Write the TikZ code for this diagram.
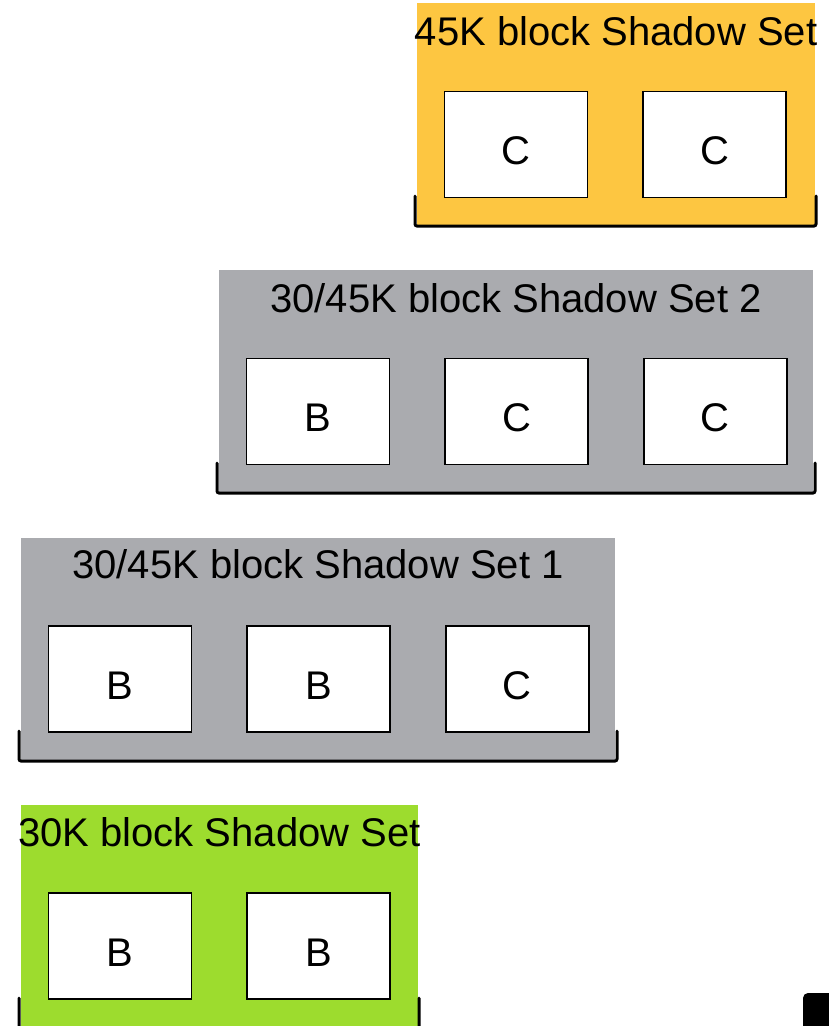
\documentclass[tikz,border=0pt]{standalone}
\usepackage{fontspec}
\setmainfont{Liberation Sans}
\usetikzlibrary{positioning}

\definecolor{setorange}{RGB}{253,198,65}
\definecolor{setgray}{RGB}{170,171,175}
\definecolor{setgreen}{RGB}{157,220,46}

\begin{document}
\begin{tikzpicture}[x=1pt, y=-1pt,
    settitle/.style={anchor=base, inner sep=0pt, font=\fontsize{40}{48}\selectfont},
    member/.style={draw=black, fill=white, line width=1.6pt, minimum width=143pt, minimum height=106pt,
      inner sep=0pt, text height=40pt, text depth=0pt, font=\fontsize{40}{48}\selectfont},
    shelf/.style={draw=black, line width=3pt, rounded corners=2pt, line cap=round}]
  \useasboundingbox (0,0) rectangle (829,1026);
  \clip (0,0) rectangle (829,1026);

  % 45K set
  \path[fill=setorange] (417,3) rectangle (815,226);
  \node[settitle] (t45) at (616,45) {45K block Shadow Set};
  \node[member] (s45a) at (516,144.5) {C};
  \node[member, right=54pt of s45a] (s45b) {C};
  \path[shelf] (415,196) -- (415,226) -- (816,226) -- (816,196);

  % 30/45K set 2
  \path[fill=setgray] (219,270) rectangle (813,493);
  \node[settitle] (t3045b) at (516,312) {30/45K block Shadow Set 2};
  \node[member] (s3045ba) at (318,411.5) {B};
  \node[member, right=54pt of s3045ba] (s3045bb) {C};
  \node[member, right=54pt of s3045bb] (s3045bc) {C};
  \path[shelf] (217,463) -- (217,493) -- (815,493) -- (815,463);

  % 30/45K set 1
  \path[fill=setgray] (21,538) rectangle (615,761);
  \node[settitle] (t3045a) at (318,578) {30/45K block Shadow Set 1};
  \node[member] (s3045aa) at (120,679) {B};
  \node[member, right=54pt of s3045aa] (s3045ab) {B};
  \node[member, right=54pt of s3045ab] (s3045ac) {C};
  \path[shelf] (19,731) -- (19,761) -- (617,761) -- (617,731);

  % 30K set
  \path[fill=setgreen] (21,805) rectangle (418,1030);
  \node[settitle] (t30) at (219.5,846) {30K block Shadow Set};
  \node[member] (s30a) at (120,946) {B};
  \node[member, right=54pt of s30a] (s30b) {B};
  \path[shelf] (19,998) -- (19,1030) -- (419,1030) -- (419,998);

  \path[fill=black, rounded corners=5pt] (803,993) rectangle (845,1045);
\end{tikzpicture}
\end{document}
